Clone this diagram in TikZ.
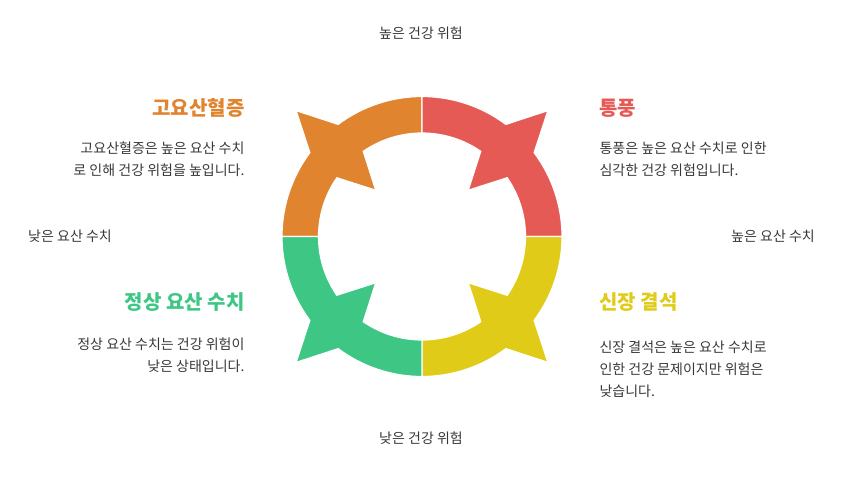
\documentclass[tikz,border=0pt]{standalone}
\usepackage{fontspec}
\setmainfont{Noto Sans CJK KR}
\begin{document}
\begin{tikzpicture}[x=1pt,y=1pt,
  lbl/.style={font=\fontsize{14}{17}\selectfont, text=black!78},
  ttl/.style={font=\bfseries\fontsize{20}{24}\selectfont},
  body/.style={font=\fontsize{14}{22}\selectfont, text=black!78}]
\useasboundingbox (0,0) rectangle (860,-483);
\definecolor{corange}{HTML}{E0842F}
\definecolor{cred}{HTML}{E55A55}
\definecolor{cyellow}{HTML}{E0CC18}
\definecolor{cgreen}{HTML}{3EC784}
\coordinate (c) at (422,-236.5);
\foreach \a/\col in {135/corange,45/cred,-45/cyellow,-135/cgreen}{
  \fill[\col, draw=white, line width=1.2pt] ([shift={(\a+45:140)}]c)
    arc[start angle=\a+45, end angle=\a+8.2, radius=140]
    -- ([shift={(\a:178)}]c)
    -- ([shift={(\a-8.2:140)}]c)
    arc[start angle=\a-8.2, end angle=\a-45, radius=140]
    -- ([shift={(\a-45:103.5)}]c)
    arc[start angle=\a-45, end angle=\a-10.4, radius=103.5]
    -- ([shift={(\a:65.5)}]c)
    -- ([shift={(\a+10.4:103.5)}]c)
    arc[start angle=\a+10.4, end angle=\a+45, radius=103.5] -- cycle;
}
\node[lbl] (top) at (421,-33) {높은 건강 위험};
\node[lbl] (bot) at (421,-438) {낮은 건강 위험};
\node[lbl] (lft) at (70,-236) {낮은 요산 수치};
\node[lbl] (rgt) at (773,-236) {높은 요산 수치};
\node[ttl, text=corange, anchor=east] (t1) at (248,-108) {고요산혈증};
\node[body, anchor=north east, align=right] (b1) at (248,-138) {고요산혈증은 높은 요산 수치\\로 인해 건강 위험을 높입니다.};
\node[ttl, text=cred, anchor=west] (t2) at (596,-108) {통풍};
\node[body, anchor=north west, align=left] (b2) at (596,-138) {통풍은 높은 요산 수치로 인한\\심각한 건강 위험입니다.};
\node[ttl, text=cgreen, anchor=east] (t3) at (248,-302) {정상 요산 수치};
\node[body, anchor=north east, align=right] (b3) at (248,-334) {정상 요산 수치는 건강 위험이\\낮은 상태입니다.};
\node[ttl, text=cyellow, anchor=west] (t4) at (596,-302) {신장 결석};
\node[body, anchor=north west, align=left] (b4) at (596,-337) {신장 결석은 높은 요산 수치로\\인한 건강 문제이지만 위험은\\낮습니다.};
\end{tikzpicture}
\end{document}
